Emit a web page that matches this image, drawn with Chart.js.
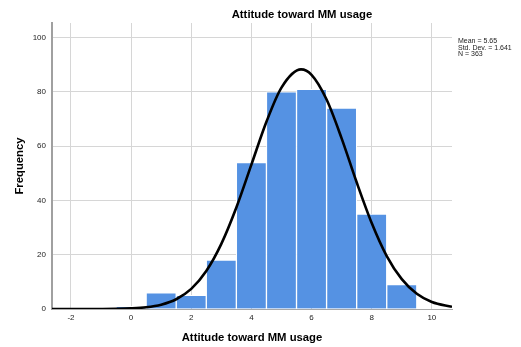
<!DOCTYPE html>
<html>
<head>
<meta charset="utf-8">
<script src="https://cdn.jsdelivr.net/npm/chart.js@4/dist/chart.umd.min.js"></script>
<style>
  html, body { margin: 0; padding: 0; background: #fff; }
  #wrap { position: relative; width: 521px; height: 347px; overflow: hidden; }
  #c { position: absolute; left: 0; top: 0; }
  .t { position: absolute; font-family: "Liberation Sans", Arial, sans-serif; color: #000; white-space: nowrap; }
  #title { font-weight: bold; font-size: 11.3px; left: 302px; top: 14px; transform: translate(-50%, -50%); }
  #stats { font-size: 7px; line-height: 6.7px; left: 458px; top: 38px; color: #222; }
</style>
</head>
<body>
<div id="wrap">
  <canvas id="c" width="521" height="347"></canvas>
  <div class="t" id="title">Attitude toward MM usage</div>
  <div class="t" id="stats">Mean = 5.65<br>Std. Dev. = 1.641<br>N = 363</div>
</div>
<script>
// Histogram bins (centres) and frequencies
const binCenters = [0, 1, 2, 3, 4, 5, 6, 7, 8, 9];
const frequencies = [1, 6, 5, 18, 54, 80, 81, 74, 35, 9];
// Fitted normal curve
const curveX = [-2.63, -2, -1.5, -1, -0.5, 0, 0.5, 1, 1.5, 2, 2.5, 3, 3.5, 4, 4.5, 5, 5.65, 6, 6.5, 7, 7.5, 8, 8.5, 9, 9.5, 10, 10.67];
const curveY = [0, 0, 0, 0.02, 0.08, 0.24, 0.64, 1.6, 3.6, 7.4, 14.0, 24.0, 37.4, 53.2, 69.0, 81.6, 88.3, 86.3, 77.2, 62.9, 46.7, 31.7, 19.5, 11.0, 5.6, 2.6, 0.8];
// Tick labels
const xTicks = [-2, 0, 2, 4, 6, 8, 10];
const yTicks = [0, 20, 40, 60, 80, 100];

const barData = binCenters.map((x, i) => ({ x: x, y: frequencies[i] }));
const curveData = curveX.map((x, i) => ({ x: x, y: curveY[i] }));

const FONT = "'Liberation Sans', Arial, sans-serif";
const gridColor = '#d6d6d6';

new Chart(document.getElementById('c'), {
  type: 'bar',
  data: {
    datasets: [
      {
        type: 'line',
        data: curveData,
        borderColor: '#000',
        borderWidth: 2.6,
        pointRadius: 0,
        cubicInterpolationMode: 'monotone',
        fill: false,
        order: 0
      },
      {
        type: 'bar',
        data: barData,
        backgroundColor: '#5592e3',
        borderColor: '#ffffff',
        borderWidth: 1,
        barPercentage: 1,
        categoryPercentage: 1,
        order: 1
      }
    ]
  },
  options: {
    responsive: false,
    animation: false,
    events: [],
    layout: { padding: { left: 0, right: 69, top: 23, bottom: 0 } },
    plugins: { legend: { display: false }, tooltip: { enabled: false }, title: { display: false } },
    scales: {
      x: {
        type: 'linear',
        offset: false,
        min: -2.63,
        max: 10.67,
        afterBuildTicks: (s) => { s.ticks = xTicks.map(v => ({ value: v })); },
        afterFit: (s) => { s.height = 38; },
        grid: { color: gridColor, lineWidth: 1, drawTicks: false, offset: false },
        border: { color: '#a8a8a8', width: 1 },
        ticks: { padding: 4, font: { family: FONT, size: 8 }, color: '#222', maxRotation: 0 },
        title: { display: true, text: 'Attitude toward MM usage', font: { family: FONT, size: 11.3, weight: 'bold' }, color: '#000', padding: { top: 0, bottom: 2 } }
      },
      y: {
        type: 'linear',
        min: 0,
        max: 105.4,
        afterBuildTicks: (s) => { s.ticks = yTicks.map(v => ({ value: v })); },
        afterFit: (s) => { s.width = 52; },
        grid: { color: gridColor, lineWidth: 1, drawTicks: false },
        border: { color: '#a0a0a0', width: 2 },
        ticks: { padding: 6, font: { family: FONT, size: 8 }, color: '#222' },
        title: { display: true, text: 'Frequency', font: { family: FONT, size: 11.3, weight: 'bold' }, color: '#000', padding: { top: 12.8, bottom: 0 } }
      }
    }
  }
});
</script>
</body>
</html>
